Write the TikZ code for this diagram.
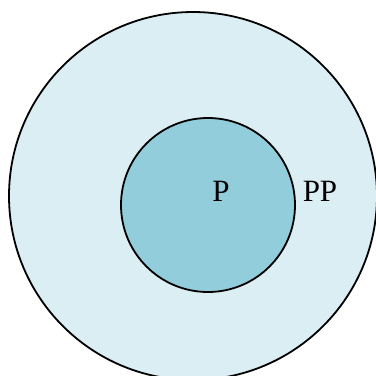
\documentclass[tikz,border=0pt]{standalone}
\usepackage{fontspec}
\setmainfont{Liberation Serif}
\definecolor{outerfill}{HTML}{DAEEF3}
\definecolor{innerfill}{HTML}{92CDDC}
\begin{document}
\begin{tikzpicture}[x=1pt,y=-1pt,
  ring/.style={circle,draw=black,line width=1.8pt,inner sep=0pt},
  lbl/.style={font=\fontsize{31}{33}\selectfont,inner sep=0pt}]
\useasboundingbox (0,0) rectangle (376,376);
\begin{scope}
\clip (0,0) rectangle (376,376);
\node[ring,fill=outerfill,minimum size=368pt] (outer) at (193,196) {};
\node[ring,fill=innerfill,minimum size=174pt] (inner) at (208,205) {};
\end{scope}
\node[lbl] (p) at (221,191) {P};
\node[lbl] (pp) at (320,191) {PP};
\end{tikzpicture}
\end{document}
